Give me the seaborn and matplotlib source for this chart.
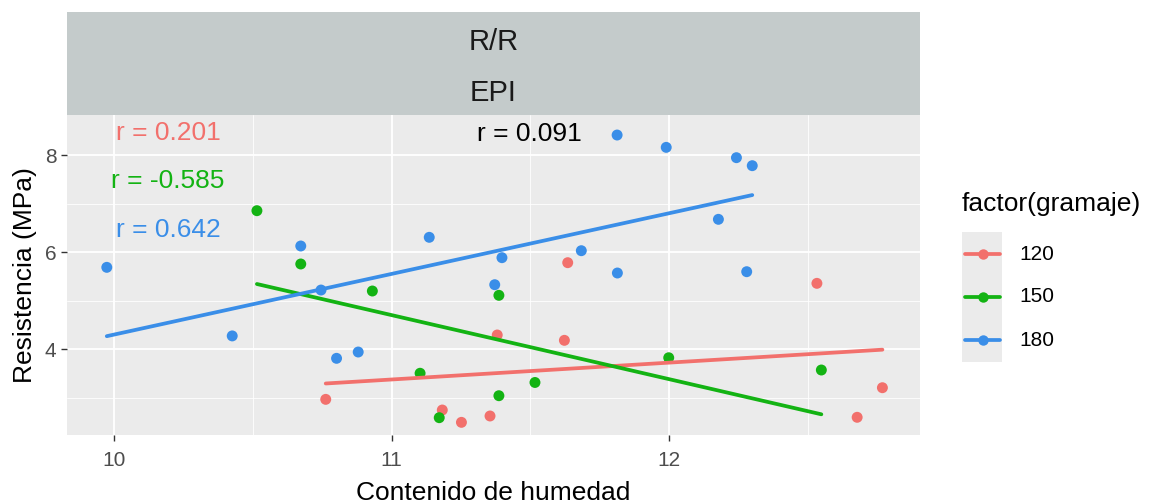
import numpy as np
import pandas as pd
import matplotlib
matplotlib.use("Agg")
import matplotlib.pyplot as plt
import seaborn as sns
from matplotlib.lines import Line2D
from matplotlib.patches import Rectangle
from matplotlib.ticker import MultipleLocator

# Moisture content (x) and strength (y) for each grammage
humedad_120 = [10.763, 11.183, 11.252, 11.355, 11.381, 11.623, 11.635, 12.533, 12.678, 12.769]
resist_120 = [2.962, 2.742, 2.488, 2.619, 4.289, 4.179, 5.780, 5.354, 2.592, 3.202]

humedad_150 = [10.515, 10.673, 10.931, 11.103, 11.172, 11.387, 11.387, 11.517, 11.999, 12.549]
resist_150 = [6.852, 5.753, 5.196, 3.500, 2.584, 5.107, 3.037, 3.310, 3.820, 3.567]

humedad_180 = [9.974, 10.426, 10.673, 10.746, 10.802, 10.880, 11.136, 11.372, 11.398,
               11.684, 11.813, 11.814, 11.990, 12.178, 12.243, 12.280, 12.300]
resist_180 = [5.684, 4.270, 6.124, 5.216, 3.808, 3.938, 6.303, 5.326, 5.883,
              6.027, 8.412, 5.567, 8.158, 6.674, 7.945, 5.594, 7.780]

grupos = ["120", "150", "180"]
r_grupos = ["r = 0.201", "r = -0.585", "r = 0.642"]
r_total = "r = 0.091"
panel_top = "R/R"
panel_bottom = "EPI"

palette = {"120": "#F2706C", "150": "#13B313", "180": "#3A8EE8"}

df = pd.concat([
    pd.DataFrame({"humedad": humedad_120, "resistencia": resist_120, "gramaje": "120"}),
    pd.DataFrame({"humedad": humedad_150, "resistencia": resist_150, "gramaje": "150"}),
    pd.DataFrame({"humedad": humedad_180, "resistencia": resist_180, "gramaje": "180"}),
], ignore_index=True)

sns.set_theme(style="darkgrid")
plt.rcParams["font.family"] = ["Liberation Sans", "DejaVu Sans"]

W, H = 1151, 503
fig = plt.figure(figsize=(W / 100, H / 100), dpi=100)
fig.patch.set_facecolor("white")

def fx(px):
    return px / W

def fy(py):
    return 1 - py / H

# main panel
ax = fig.add_axes([fx(67), fy(435), fx(920) - fx(67), fy(115) - fy(435)])
ax.set_facecolor("#EBEBEB")

sns.scatterplot(data=df, x="humedad", y="resistencia", hue="gramaje",
                palette=palette, s=62, edgecolor="none", linewidth=0,
                legend=False, ax=ax, zorder=2)
for g in grupos:
    sub = df[df["gramaje"] == g]
    sns.regplot(data=sub, x="humedad", y="resistencia", scatter=False, ci=None,
                truncate=True, color=palette[g], line_kws=dict(lw=2.7, zorder=3), ax=ax)

# correlation annotations
r_y = [8.447, 7.468, 6.454]
for g, lab, yy in zip(grupos, r_grupos, r_y):
    ax.text(10.195, yy, lab, color=palette[g], fontsize=19, ha="center", va="center")
ax.text(11.496, 8.433, r_total, color="black", fontsize=19, ha="center", va="center")

ax.set_xlim(9.8306, 12.9045)
ax.set_ylim(2.227, 8.825)
ax.xaxis.set_major_locator(MultipleLocator(1))
ax.xaxis.set_minor_locator(MultipleLocator(0.5))
ax.yaxis.set_major_locator(MultipleLocator(2))
ax.yaxis.set_minor_locator(MultipleLocator(1))
ax.set_axisbelow(True)
ax.grid(which="major", color="white", lw=1.3)
ax.grid(which="minor", color="white", lw=0.6)
for s in ax.spines.values():
    s.set_visible(False)
ax.tick_params(axis="both", which="major", bottom=True, left=True, length=4.5,
               width=1, color="#333333", labelsize=15, labelcolor="#4D4D4D")
ax.tick_params(axis="x", which="major", pad=7)
ax.tick_params(axis="y", which="major", pad=3)
ax.tick_params(axis="both", which="minor", bottom=False, left=False, length=0)

ax.set_xlabel("Contenido de humedad", fontsize=19, color="black", labelpad=8)
ax.set_ylabel("Resistencia (MPa)", fontsize=19, color="black", labelpad=6)

# facet strip
sax = fig.add_axes([fx(67), fy(115), fx(920) - fx(67), fy(12) - fy(115)])
sax.set_facecolor("#C4CBCB")
sax.set_xticks([])
sax.set_yticks([])
sax.grid(False)
for s in sax.spines.values():
    s.set_visible(False)
sax.set_xlim(0, 1)
sax.set_ylim(0, 1)
sax.text(0.5, 0.704, panel_top, fontsize=21, ha="center", va="center", color="#1A1A1A")
sax.text(0.5, 0.218, panel_bottom, fontsize=21, ha="center", va="center", color="#1A1A1A")

# legend
fig.text(fx(962), fy(204), "factor(gramaje)", fontsize=19, ha="left", va="center", color="black")
fig.add_artist(Rectangle((fx(962), fy(362)), fx(1002) - fx(962), fy(232) - fy(362),
                         transform=fig.transFigure, facecolor="#EBEBEB", edgecolor="none"))
key_y = [254, 297, 340]
for g, ky in zip(grupos, key_y):
    fig.add_artist(Line2D([fx(965), fx(1000)], [fy(ky), fy(ky)], transform=fig.transFigure,
                          color=palette[g], lw=2.7))
    fig.add_artist(Line2D([fx(983)], [fy(ky)], transform=fig.transFigure, color=palette[g],
                          marker="o", markersize=7.5, markeredgewidth=0, linestyle="none"))
    fig.text(fx(1019), fy(ky), g, fontsize=15, ha="left", va="center", color="black")

fig.savefig("out.png", dpi=100)
